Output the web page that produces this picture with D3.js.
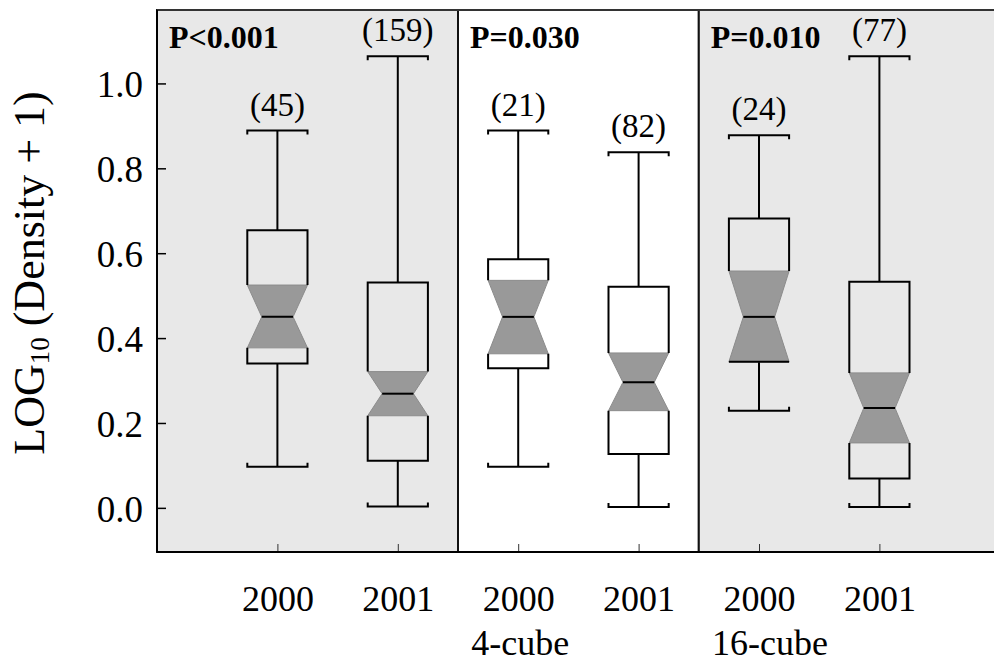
<!DOCTYPE html>
<html>
<head>
<meta charset="utf-8">
<script src="https://cdn.jsdelivr.net/npm/d3@7"></script>
<style>
  body { margin: 0; background: #fff; }
  svg text { font-family: "Liberation Serif", "Times New Roman", serif; fill: #000; }
</style>
</head>
<body>
<svg id="chart" font-family="Liberation Serif"></svg>
<script>
// data
const years = ["2000", "2001", "2000", "2001", "2000", "2001"];
const panelNames = ["", "4-cube", "16-cube"];
const pLabels = ["P<0.001", "P=0.030", "P=0.010"];
const counts = [45, 159, 21, 82, 24, 77];
const whiskerHi = [0.889, 1.064, 0.889, 0.838, 0.878, 1.064];
const q3 = [0.654, 0.531, 0.586, 0.521, 0.682, 0.533];
const notchHi = [0.525, 0.321, 0.536, 0.365, 0.558, 0.318];
const median = [0.450, 0.269, 0.450, 0.296, 0.450, 0.235];
const notchLo = [0.377, 0.217, 0.363, 0.229, 0.344, 0.153];
const q1 = [0.340, 0.111, 0.329, 0.127, 0.344, 0.069];
const whiskerLo = [0.097, 0.003, 0.097, 0.002, 0.229, 0.002];
const yTicks = [0, 0.2, 0.4, 0.6, 0.8, 1.0];

let width = 994, height = 666;
let margin = { top: 10, left: 157, bottom: 114 };
let serif = '"Liberation Serif", "Times New Roman", serif';

let svg = d3.select('#chart').attr('width', width).attr('height', height);

// slot positions: boxes sit at 1..6, panels split at 2.5 and 4.5
let x = d3.scaleLinear().domain([0, 7.5]).range([margin.left, margin.left + 7.5 * 120.4]);
let y = d3.scaleLinear().domain([-0.104, 1.173]).range([height - margin.bottom, margin.top]);

let panels = [
  { from: 0, to: 2.5, fill: '#e8e8e8' },
  { from: 2.5, to: 4.5, fill: '#ffffff' },
  { from: 4.5, to: 7.5, fill: '#e8e8e8' }
];

svg.selectAll('rect.panel')
  .data(panels)
  .enter().append('rect')
  .attr('class', 'panel')
  .attr('x', d => x(d.from))
  .attr('y', y.range()[1])
  .attr('width', d => x(d.to) - x(d.from))
  .attr('height', y.range()[0] - y.range()[1])
  .attr('fill', d => d.fill)
  .attr('stroke', '#111')
  .attr('stroke-width', 2);

// p values in each panel
svg.selectAll('text.pval')
  .data(pLabels)
  .enter().append('text')
  .attr('class', 'pval')
  .attr('x', (d, i) => x(panels[i].from) + 12)
  .attr('y', 48)
  .attr('font-family', serif)
  .style('font-weight', 'bold')
  .style('font-size', '32px')
  .text(d => d);

// y axis, ticks pointing inward
let yAxis = d3.axisLeft(y)
  .tickValues(yTicks)
  .tickSize(-9)
  .tickPadding(14)
  .tickFormat(d3.format('.1f'));
let gy = svg.append('g')
  .attr('transform', `translate(${margin.left},0)`)
  .call(yAxis)
  .attr('font-family', serif)
  .attr('font-size', 37);
gy.select('.domain').remove();
gy.selectAll('.tick line').attr('stroke', '#000').attr('stroke-width', 1.5);
gy.selectAll('.tick text').attr('dy', '0.36em');

// x axis with year labels
let xAxis = d3.axisBottom(x)
  .tickValues([1, 2, 3, 4, 5, 6])
  .tickSize(-8)
  .tickPadding(33)
  .tickFormat(d => years[d - 1]);
let gx = svg.append('g')
  .attr('transform', `translate(0,${y.range()[0]})`)
  .call(xAxis)
  .attr('font-family', serif)
  .attr('font-size', 36);
gx.select('.domain').remove();
gx.selectAll('.tick line').attr('stroke', '#333').attr('stroke-width', 1);

// outer frame lines
svg.append('line')
  .attr('x1', margin.left).attr('x2', width)
  .attr('y1', y.range()[1]).attr('y2', y.range()[1])
  .attr('stroke', '#333').attr('stroke-width', 2);
svg.append('line')
  .attr('x1', margin.left).attr('x2', width)
  .attr('y1', y.range()[0]).attr('y2', y.range()[0])
  .attr('stroke', '#000').attr('stroke-width', 2);
svg.append('line')
  .attr('x1', margin.left).attr('x2', margin.left)
  .attr('y1', y.range()[1]).attr('y2', y.range()[0])
  .attr('stroke', '#000').attr('stroke-width', 2);

// panel names under the years
svg.selectAll('text.panelname')
  .data(panelNames)
  .enter().append('text')
  .attr('class', 'panelname')
  .attr('x', (d, i) => x(panels[i].from + 0.5) - 47)
  .attr('y', 655)
  .attr('font-family', serif)
  .style('font-size', '36px')
  .text(d => d);

// y axis title
let title = svg.append('text')
  .attr('transform', 'translate(44,273) rotate(-90)')
  .attr('text-anchor', 'middle')
  .attr('font-family', serif)
  .style('font-size', '44px');
title.append('tspan').text('LOG');
title.append('tspan').text('10').style('font-size', '27px').attr('dy', 5);
title.append('tspan').text(' (Density + 1)').attr('dy', -5);

// boxes
let boxHalf = 0.25, waistHalf = 0.13, capHook = 4;
let boxes = years.map((yr, i) => ({
  pos: i + 1,
  n: counts[i],
  hi: whiskerHi[i], q3: q3[i], nh: notchHi[i], med: median[i],
  nl: notchLo[i], q1: q1[i], lo: whiskerLo[i]
}));

let g = svg.selectAll('g.box')
  .data(boxes)
  .enter().append('g')
  .attr('class', 'box');

// whiskers
g.append('line')
  .attr('x1', d => x(d.pos)).attr('x2', d => x(d.pos))
  .attr('y1', d => y(d.hi)).attr('y2', d => y(d.q3))
  .attr('stroke', '#000').attr('stroke-width', 2);
g.append('line')
  .attr('x1', d => x(d.pos)).attr('x2', d => x(d.pos))
  .attr('y1', d => y(d.q1)).attr('y2', d => y(d.lo))
  .attr('stroke', '#000').attr('stroke-width', 2);

// caps with little hooks at the ends
g.append('path')
  .attr('d', d => {
    let l = x(d.pos - boxHalf), r = x(d.pos + boxHalf), t = y(d.hi);
    return `M${l},${t + capHook}V${t}H${r}V${t + capHook}`;
  })
  .attr('fill', 'none').attr('stroke', '#000').attr('stroke-width', 2);
g.append('path')
  .attr('d', d => {
    let l = x(d.pos - boxHalf), r = x(d.pos + boxHalf), b = y(d.lo);
    return `M${l},${b - capHook}V${b}H${r}V${b - capHook}`;
  })
  .attr('fill', 'none').attr('stroke', '#000').attr('stroke-width', 2);

// notch (grey hourglass)
g.append('path')
  .attr('d', d => {
    let l = x(d.pos - boxHalf), r = x(d.pos + boxHalf);
    let wl = x(d.pos - waistHalf), wr = x(d.pos + waistHalf);
    return `M${l},${y(d.nh)}L${wl},${y(d.med)}L${l},${y(d.nl)}H${r}L${wr},${y(d.med)}L${r},${y(d.nh)}Z`;
  })
  .attr('fill', '#999').attr('stroke', '#8c8c8c').attr('stroke-width', 1);

// box outline outside the notch
g.append('path')
  .attr('d', d => {
    let l = x(d.pos - boxHalf), r = x(d.pos + boxHalf);
    let p = `M${l},${y(d.nh)}V${y(d.q3)}H${r}V${y(d.nh)}`;
    if (d.nl > d.q1 + 0.001) {
      p += `M${l},${y(d.nl)}V${y(d.q1)}H${r}V${y(d.nl)}`;
    } else {
      p += `M${l},${y(d.q1)}H${r}`;
    }
    return p;
  })
  .attr('fill', 'none').attr('stroke', '#000').attr('stroke-width', 2);

// median line
g.append('line')
  .attr('x1', d => x(d.pos - waistHalf)).attr('x2', d => x(d.pos + waistHalf))
  .attr('y1', d => y(d.med)).attr('y2', d => y(d.med))
  .attr('stroke', '#000').attr('stroke-width', 2);

// sample sizes above the caps
g.append('text')
  .attr('x', d => x(d.pos))
  .attr('y', d => y(d.hi) - 15)
  .attr('text-anchor', 'middle')
  .attr('font-family', serif)
  .style('font-size', '33px')
  .text(d => `(${d.n})`);
</script>
</body>
</html>
